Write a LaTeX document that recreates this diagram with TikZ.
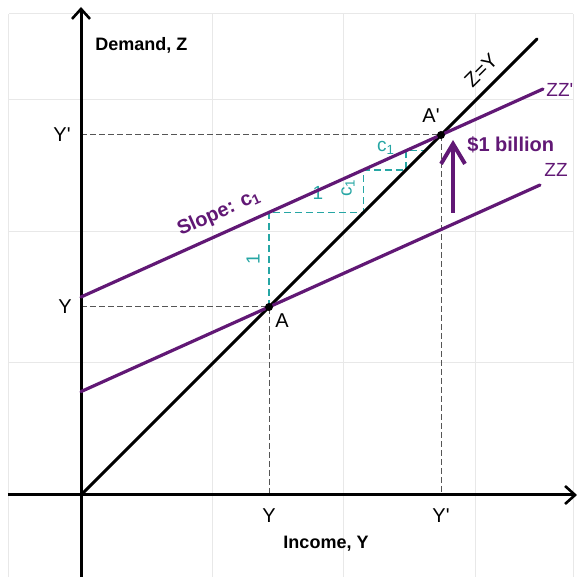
\documentclass[tikz,border=0pt]{standalone}
\usepackage{fontspec}
\setmainfont{Liberation Sans}[Ligatures=TeXOff]
\usetikzlibrary{positioning, arrows.meta}
\definecolor{zzpurple}{RGB}{97,24,117}
\definecolor{stepteal}{RGB}{38,166,164}
\definecolor{guidegray}{RGB}{85,85,85}

\begin{document}
\begin{tikzpicture}[
    x=0.5pt, y=0.5pt,
    % Define styles
    gridline/.style={draw=black!9, line width=0.5pt},
    axis/.style={line width=1.5pt, -{Straight Barb[length=5pt, width=9pt, line width=1.3pt]}},
    diag/.style={line width=1.5pt, line cap=round},
    zzline/.style={draw=zzpurple, line width=1.6pt, line cap=round},
    guide/.style={draw=guidegray, line width=0.5pt, dash pattern=on 3pt off 1.5pt},
    stair/.style={draw=stepteal, line width=0.8pt, dash pattern=on 3.5pt off 2pt},
    shiftarrow/.style={draw=zzpurple, line width=2pt, -{Straight Barb[length=10pt, width=12pt, line width=2pt]}},
    dot/.style={circle, fill=black, inner sep=0pt, minimum size=4pt},
    ticklabel/.style={inner sep=0pt, font=\fontsize{10}{12}\selectfont},
    axislabel/.style={inner sep=0pt, font=\fontsize{9}{11}\selectfont\bfseries},
    zzlabel/.style={inner sep=0pt, text=zzpurple, font=\fontsize{9.5}{11}\selectfont},
    steplabel/.style={inner sep=0pt, text=stepteal, font=\fontsize{9.5}{11}\selectfont}
]

    \useasboundingbox (-81,-82) rectangle (496,495);

    % --- GRID ---
    \foreach \x in {-72,131,262,394,492}
        \draw[gridline] (\x,-82) -- (\x,481);
    \foreach \y in {132,263,395,481}
        \draw[gridline] (-72,\y) -- (492,\y);

    % --- POINTS ---
    \coordinate (O) at (0,0);
    \coordinate (A) at (188,188);
    \coordinate (Ap) at (360,360);
    \coordinate (yA) at (0,188);
    \coordinate (xA) at (188,0);
    \coordinate (yAp) at (0,360);
    \coordinate (xAp) at (360,0);
    \coordinate (zz0) at (0,103.4);
    \coordinate (zz1) at (459,310);
    \coordinate (zzp0) at (0,198);
    \coordinate (zzp1) at (462,406);
    \coordinate (diagEnd) at (456,456);

    % --- GUIDES ---
    \draw[guide] (yA) -- (A) -- (xA);
    \draw[guide] (yAp) -- (Ap) -- (xAp);

    % --- AXES ---
    \draw[axis] (0,-82) -- (0,488);
    \draw[axis] (-73,0) -- (496,0);

    % --- STAIRCASE (labels sit under the lines) ---
    \draw[stair] (A) -- (188,282.6) -- (282.6,282.6) -- (282.6,325.2)
        -- (325.2,325.2) -- (325.2,344.3) -- (344.3,344.3);
    \node (lblRise) [steplabel, rotate=90] at (172,236) {1};
    \node (lblRun) [steplabel] at (237,302) {1};
    \node (lblCRise) [steplabel, rotate=90] at (267,307) {c\textsubscript{1}};
    \node (lblCRun) [steplabel] at (305,347) {c\textsubscript{1}};

    % --- LINES ---
    \draw[diag] (O) -- (diagEnd);
    \draw[zzline] (zz0) -- (zz1);
    \draw[zzline] (zzp0) -- (zzp1);

    \node (dotA) [dot] at (A) {};
    \node (dotAp) [dot] at (Ap) {};

    % --- SHIFT ARROW ---
    \coordinate (shiftFrom) at (372,282);
    \coordinate (shiftTo) at (372,355);
    \draw[shiftarrow] (shiftFrom) -- (shiftTo);

    % --- LABELS ---
    \node (lblYv) [ticklabel, left=4.5pt of yA] {Y};
    \node (lblYpv) [ticklabel, left=5pt of yAp] {Y'};
    \node (lblYh) [ticklabel, below=6.5pt of xA] {Y};
    \node (lblYph) [ticklabel, below=6.5pt of xAp] {Y'};
    \node (lblA) [ticklabel, below right=3pt and 3pt of A] {A};
    \node (lblAp) [ticklabel, above=6pt of Ap, xshift=-5pt] {A'};

    \node (lblDemand) [axislabel, anchor=west] at (14,450) {Demand, Z};
    \node (lblIncome) [axislabel] at (245,-49) {Income, Y};

    \node (lblDiag) [ticklabel, rotate=45] at (400,425) {Z=Y};
    \node (lblZZp) [zzlabel, anchor=west] at (465,405) {ZZ'};
    \node (lblZZ) [zzlabel, anchor=west] at (463,325) {ZZ};
    \node (lblShift) [zzlabel, anchor=west, font=\fontsize{10}{12}\selectfont\bfseries] at (386,350) {\$1 billion};
    \node (lblSlope) [zzlabel, rotate=24.2, font=\fontsize{10}{12}\selectfont\bfseries] at (138,282) {Slope: c\textsubscript{1}};

\end{tikzpicture}
\end{document}
